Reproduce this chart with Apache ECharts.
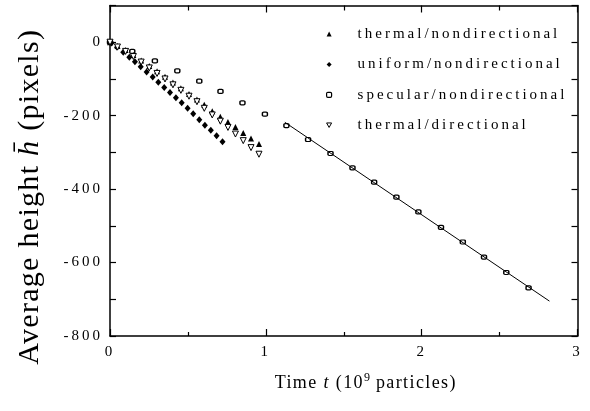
<!DOCTYPE html>
<html>
<head>
<meta charset="utf-8">
<script src="https://cdn.jsdelivr.net/npm/echarts@6/dist/echarts.min.js"></script>
<style>
html,body{margin:0;padding:0;background:#fff;}
#c{width:590px;height:411px;}
</style>
</head>
<body>
<div id="c"></div>
<script>
// ---- data ----
const thermalT = [0, 0.048, 0.10, 0.15, 0.20, 0.252, 0.302, 0.353, 0.404, 0.455, 0.507, 0.558, 0.605, 0.656, 0.708, 0.757, 0.805, 0.855, 0.905, 0.956];
const thermalNondirH = [0, -10, -21, -35, -50, -65, -79, -94, -110, -125, -141, -156, -170, -188, -203, -217, -231, -247, -262, -277];
const thermalDirH = [0, -13, -25, -39, -54, -70, -85, -100, -116, -131, -147, -162, -180, -198, -215, -232, -250, -268, -287, -305];
const uniformT = [0.01, 0.045, 0.085, 0.124, 0.16, 0.197, 0.235, 0.274, 0.31, 0.348, 0.385, 0.423, 0.46, 0.498, 0.534, 0.573, 0.609, 0.647, 0.684, 0.722];
const uniformH = [-2, -14, -27, -41, -53, -67, -81, -95, -109, -123, -137, -151, -165, -180, -195, -211, -226, -240, -255, -271];
const specularT = [0, 0.143, 0.288, 0.432, 0.573, 0.709, 0.85, 0.994, 1.132, 1.271, 1.415, 1.556, 1.695, 1.838, 1.979, 2.124, 2.264, 2.40, 2.543, 2.686];
const specularH = [0, -25, -51, -78, -106, -134, -165, -196, -227, -265, -303, -342, -381, -422, -462, -504, -544, -585, -627, -669];
const fitT = [1.122, 2.82];
const fitH = [-218, -705];
const seriesNames = ['thermal/nondirectional', 'uniform/nondirectional', 'specular/nondirectional', 'thermal/directional'];
const xTickLabels = [0, 1, 2, 3];
const yTickLabels = [0, -200, -400, -600, -800];

// ---- letter spacing of the typeset original (by font size) ----
const SPACING = {15: 3, 18: 1.4, 30: 1.3};
(function () {
  const d = Object.getOwnPropertyDescriptor(CanvasRenderingContext2D.prototype, 'font');
  Object.defineProperty(CanvasRenderingContext2D.prototype, 'font', {
    configurable: true,
    get() { return d.get.call(this); },
    set(v) {
      d.set.call(this, v);
      const m = /(\d+(?:\.\d+)?)px/.exec(v);
      const s = m ? SPACING[parseFloat(m[1])] : undefined;
      try { this.letterSpacing = (s !== undefined ? s : 0) + 'px'; } catch (e) {}
    }
  });
})();

const zip = (a, b) => a.map((v, i) => [v, b[i]]);
const FONT = 'Liberation Serif';
const INVERTED_TRIANGLE = 'path://M0,0L10,0L5,9Z';

const chart = echarts.init(document.getElementById('c'), null, {renderer: 'canvas'});

const axisLine = {show: true, onZero: false, lineStyle: {color: '#000', width: 1.5}};
const tickStyle = {color: '#000', width: 1.2};

chart.setOption({
  animation: false,
  backgroundColor: '#fff',
  grid: {left: 110, right: 12.5, top: 5.5, bottom: 75, containLabel: false},
  legend: {
    orient: 'vertical',
    left: 321,
    top: 20,
    itemWidth: 5,
    itemHeight: 5,
    itemGap: 12.4,
    data: [
      {name: seriesNames[0], icon: 'triangle', itemStyle: {color: '#000'}},
      {name: seriesNames[1], icon: 'diamond', itemStyle: {color: '#000'}},
      {name: seriesNames[2], icon: 'roundRect', itemStyle: {color: '#fff', borderColor: '#000', borderWidth: 1.2}},
      {name: seriesNames[3], icon: INVERTED_TRIANGLE, itemStyle: {color: '#fff', borderColor: '#000', borderWidth: 1}}
    ],
    textStyle: {fontFamily: FONT, fontSize: 15, color: '#000', lineHeight: 16, padding: [0, 0, 0, 21]},
    selectedMode: false
  },
  xAxis: [{
    type: 'value', position: 'bottom', min: 0, max: 3, interval: 1,
    axisLine: axisLine,
    axisTick: {inside: true, length: 7, lineStyle: tickStyle},
    minorTick: {show: true, splitNumber: 2, length: 4, lineStyle: tickStyle},
    splitLine: {show: false},
    axisLabel: {
      color: '#000', fontFamily: FONT, fontSize: 15, margin: 7,
      formatter: v => (xTickLabels.indexOf(v) >= 0 ? String(v) : '')
    },
    name: '{n|Time }{i|t}{n| (10}{s|9}{n| particles)}',
    nameLocation: 'middle',
    nameGap: 36,
    nameTextStyle: {
      padding: [0, 0, 0, 44],
      rich: {
        n: {fontFamily: FONT, fontSize: 18, color: '#000', lineHeight: 22},
        i: {fontFamily: FONT, fontSize: 18, fontStyle: 'italic', color: '#000', lineHeight: 22},
        s: {fontFamily: FONT, fontSize: 12, color: '#000', lineHeight: 14, verticalAlign: 'top'}
      }
    }
  }, {
    type: 'value', position: 'top', min: 0, max: 3, interval: 1,
    axisLine: axisLine,
    axisTick: {inside: true, length: 7, lineStyle: tickStyle},
    minorTick: {show: true, splitNumber: 2, length: 5, lineStyle: tickStyle},
    splitLine: {show: false},
    axisLabel: {show: false}
  }],
  yAxis: [{
    type: 'value', position: 'left', min: -800, max: 100, interval: 100,
    axisLine: axisLine,
    axisTick: {inside: true, length: 6, lineStyle: tickStyle},
    splitLine: {show: false},
    axisLabel: {
      color: '#000', fontFamily: FONT, fontSize: 15, margin: 7,
      formatter: v => (yTickLabels.indexOf(v) >= 0 ? String(v) : '')
    },
    name: '{n|Average height }{i|h\u0304}{n| (pixels)}',
    nameLocation: 'middle',
    nameRotate: 90,
    nameGap: 64,
    nameTextStyle: {
      padding: [0, 52, 0, 0],
      rich: {
        n: {fontFamily: FONT, fontSize: 30, color: '#000', lineHeight: 32},
        i: {fontFamily: FONT, fontSize: 30, fontStyle: 'italic', color: '#000', lineHeight: 32}
      }
    }
  }, {
    type: 'value', position: 'right', min: -800, max: 100, interval: 100,
    axisLine: axisLine,
    axisTick: {inside: true, length: 6, lineStyle: tickStyle},
    splitLine: {show: false},
    axisLabel: {show: false}
  }],
  series: [{
    name: 'fit',
    type: 'line',
    data: zip(fitT, fitH),
    showSymbol: false,
    symbol: 'none',
    lineStyle: {color: '#000', width: 1},
    silent: true
  }, {
    name: seriesNames[1],
    type: 'scatter',
    data: zip(uniformT, uniformH),
    symbol: 'diamond',
    symbolSize: [6, 7],
    itemStyle: {color: '#000', opacity: 1}
  }, {
    name: seriesNames[2],
    type: 'scatter',
    data: zip(specularT, specularH),
    symbol: 'roundRect',
    symbolSize: [5, 4],
    itemStyle: {color: '#fff', borderColor: '#000', borderWidth: 1.3, opacity: 1}
  }, {
    name: seriesNames[0],
    type: 'scatter',
    data: zip(thermalT, thermalNondirH),
    symbol: 'triangle',
    symbolSize: [6, 6],
    itemStyle: {color: '#000', opacity: 1}
  }, {
    name: seriesNames[3],
    type: 'scatter',
    data: zip(thermalT, thermalDirH),
    symbol: 'triangle',
    symbolRotate: 180,
    symbolSize: [6, 6],
    itemStyle: {color: '#fff', borderColor: '#000', borderWidth: 1, opacity: 1}
  }]
});
</script>
</body>
</html>
